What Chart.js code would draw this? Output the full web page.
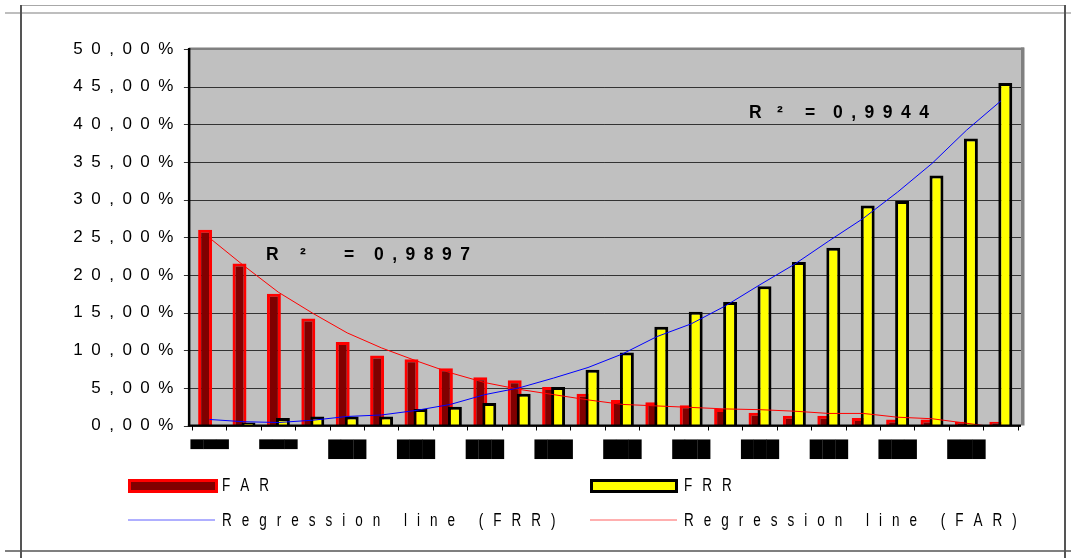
<!DOCTYPE html>
<html>
<head>
<meta charset="utf-8">
<script src="https://cdn.jsdelivr.net/npm/chart.js@4/dist/chart.umd.min.js"></script>
<style>
  html, body { margin: 0; padding: 0; background: #fff; }
  canvas { display: block; }
</style>
</head>
<body>
<canvas id="chart" width="1071" height="558"></canvas>
<script>
// category labels are blacked out in the original, kept as block glyphs
const categories = [
    '▀▀▀', '▀▀▀', '▀▀▀', '▀▀▀', '███', '███', '███', '███',
    '███', '███', '███', '███', '███', '███', '███', '███',
    '███', '███', '███', '███', '███', '███', '███', '███'
];

// values in percent
const farValues = [26.0, 21.5, 17.5, 14.2, 11.1, 9.3, 8.8, 7.6, 6.4, 6.0, 5.1, 4.2,
                   3.4, 3.1, 2.7, 2.2, 1.7, 1.3, 1.3, 1.0, 0.8, 0.8, 0.5, 0.5];
const frrValues = [0.0, 0.4, 1.0, 1.2, 1.2, 1.2, 2.2, 2.5, 3.0, 4.2, 5.1, 7.4,
                   9.7, 13.1, 15.1, 16.4, 18.5, 21.7, 23.6, 29.2, 29.8, 33.2, 38.1, 45.5];

// trend lines
const frrTrend = [0.8, 0.5, 0.4, 0.7, 1.2, 1.4, 2.0, 2.8, 4.1, 5.0, 6.3, 7.7,
                  9.5, 11.8, 13.5, 15.9, 18.7, 21.4, 24.5, 27.5, 31.0, 34.8, 39.2, 43.1];
const farTrend = [24.9, 21.2, 17.7, 14.9, 12.3, 10.3, 8.6, 7.0, 5.7, 4.8, 4.1, 3.4,
                  2.8, 2.6, 2.4, 2.2, 2.1, 1.9, 1.6, 1.6, 1.1, 0.9, 0.3, -0.3];

const yMax = 50;
const yStep = 5;

const r2Frr = '0,9944';
const r2Far = '0,9897';

const colors = {
    plot: '#c0c0c0',
    grid: '#333333',
    farFill: '#800000',
    farBorder: '#ff0000',
    frrFill: '#ffff00',
    frrBorder: '#000000',
    frrLine: '#0000ff',
    farLine: '#ff0000'
};

const textFont = '"Liberation Sans", Arial, sans-serif';

// "50,00 %" style with wide letter spacing like the original
function spaced(str) {
    return str.split('').join('\u2002');
}

// draw text one glyph at a time, squeezed by sx, with extra gap
function drawSpaced(ctx, text, x, y, gap, sx) {
    for (const ch of text) {
        ctx.save();
        ctx.translate(x, y);
        ctx.scale(sx, 1);
        ctx.fillText(ch, 0, 0);
        ctx.restore();
        x += ctx.measureText(ch).width * sx + gap;
    }
    return x;
}

// FRR bars sit over the FAR bars, so draw FAR first then FRR
const barOrder = {
    id: 'barOrder',
    beforeDatasetDraw(chart, args) {
        if (args.index === 1) return false;
    },
    afterDatasetDraw(chart, args) {
        if (args.index === 0) {
            chart.getDatasetMeta(1).controller.draw();
        }
    }
};

const frame = {
    id: 'frame',
    beforeDraw(chart) {
        const ctx = chart.ctx;
        const area = chart.chartArea;
        const y = chart.scales.y;
        const left = area.left - 3.5;
        const right = area.right + 3;

        ctx.save();
        // outer sheet lines
        ctx.strokeStyle = '#a8a8a8';
        ctx.lineWidth = 1;
        ctx.beginPath(); ctx.moveTo(21, 5.5); ctx.lineTo(1065, 5.5); ctx.stroke();
        ctx.lineWidth = 1.5;
        ctx.beginPath(); ctx.moveTo(5, 13); ctx.lineTo(1071, 13); ctx.stroke();
        ctx.strokeStyle = '#555';
        ctx.lineWidth = 2;
        ctx.beginPath(); ctx.moveTo(21, 5); ctx.lineTo(21, 558); ctx.stroke();
        ctx.beginPath(); ctx.moveTo(1065, 5); ctx.lineTo(1065, 558); ctx.stroke();
        ctx.lineWidth = 1.5;
        ctx.beginPath(); ctx.moveTo(5, 551); ctx.lineTo(1071, 551); ctx.stroke();

        // plot area
        ctx.fillStyle = colors.plot;
        ctx.fillRect(left, area.top, right - left, area.bottom - area.top);
        ctx.strokeStyle = colors.grid;
        ctx.lineWidth = 1;
        y.ticks.forEach(t => {
            const py = Math.round(y.getPixelForValue(t.value)) + 0.5;
            ctx.beginPath();
            ctx.moveTo(left, py);
            ctx.lineTo(right, py);
            ctx.stroke();
            ctx.beginPath();
            ctx.moveTo(left - 5, py);
            ctx.lineTo(left, py);
            ctx.stroke();
        });
        ctx.restore();
    },
    afterDatasetsDraw(chart) {
        const ctx = chart.ctx;
        const area = chart.chartArea;
        const left = area.left - 3.5;
        const right = area.right + 3;
        ctx.save();
        ctx.fillStyle = '#808080';
        ctx.fillRect(left, area.top - 1.5, right - left + 3, 2.5);
        ctx.fillRect(right, area.top - 1.5, 3.5, area.bottom - area.top + 1.5);
        ctx.fillStyle = '#000';
        ctx.fillRect(left - 1, area.top - 1, 2.5, area.bottom - area.top + 2);
        ctx.fillRect(left - 1, area.bottom - 1, right - left + 1, 2);
        ctx.restore();
    },
    afterDraw(chart) {
        const ctx = chart.ctx;
        const ds = chart.data.datasets;
        ctx.save();
        ctx.fillStyle = '#000';
        ctx.textBaseline = 'alphabetic';

        // R² labels
        ctx.font = 'bold 17.5px ' + textFont;
        drawSpaced(ctx, 'R', 266, 260, 0, 1);
        drawSpaced(ctx, '²', 300, 260, 0, 1);
        drawSpaced(ctx, '=', 344, 260, 0, 1);
        drawSpaced(ctx, r2Far, 374, 260, 8.5, 1);

        drawSpaced(ctx, 'R', 749, 118, 0, 1);
        drawSpaced(ctx, '²', 777, 118, 0, 1);
        drawSpaced(ctx, '=', 805, 118, 0, 1);
        drawSpaced(ctx, r2Frr, 833, 118, 8.5, 1);

        // legend
        ctx.fillStyle = colors.farBorder;
        ctx.fillRect(128, 479, 90, 14);
        ctx.fillStyle = colors.farFill;
        ctx.fillRect(131, 482, 84, 8);
        ctx.fillStyle = colors.frrBorder;
        ctx.fillRect(590, 479, 88, 14);
        ctx.fillStyle = colors.frrFill;
        ctx.fillRect(593, 482, 82, 8);

        ctx.lineWidth = 1;
        ctx.strokeStyle = '#6060ff';
        ctx.beginPath(); ctx.moveTo(128, 520); ctx.lineTo(215, 520); ctx.stroke();
        ctx.strokeStyle = '#ff6060';
        ctx.beginPath(); ctx.moveTo(590, 520); ctx.lineTo(677, 520); ctx.stroke();

        ctx.fillStyle = '#000';
        ctx.font = '18px ' + textFont;
        drawSpaced(ctx, ds[0].label, 222, 491, 10, 0.75);
        drawSpaced(ctx, ds[1].label, 684, 491, 10, 0.75);
        drawSpaced(ctx, ds[2].label, 222, 526, 10, 0.75);
        drawSpaced(ctx, ds[3].label, 684, 526, 10, 0.75);
        ctx.restore();
    }
};

const ctx = document.getElementById('chart').getContext('2d');

new Chart(ctx, {
    type: 'bar',
    data: {
        labels: categories,
        datasets: [
            {
                label: 'FAR',
                data: farValues,
                backgroundColor: colors.farFill,
                borderColor: colors.farBorder,
                borderWidth: 3,
                categoryPercentage: 0.523,
                barPercentage: 1.55,
                order: 0
            },
            {
                label: 'FRR',
                data: frrValues,
                backgroundColor: colors.frrFill,
                borderColor: colors.frrBorder,
                borderWidth: 3,
                categoryPercentage: 0.523,
                barPercentage: 1.55,
                order: 0
            },
            {
                type: 'line',
                label: 'Regression line (FRR)',
                data: frrTrend,
                borderColor: colors.frrLine,
                borderWidth: 1,
                pointRadius: 0,
                tension: 0,
                fill: false,
                order: -1
            },
            {
                type: 'line',
                label: 'Regression line (FAR)',
                data: farTrend,
                borderColor: colors.farLine,
                borderWidth: 1,
                pointRadius: 0,
                tension: 0,
                fill: false,
                order: -1
            }
        ]
    },
    options: {
        responsive: false,
        animation: false,
        devicePixelRatio: 1,
        layout: { padding: { left: 0, top: 49, right: 53, bottom: 0 } },
        scales: {
            x: {
                grid: { display: true, drawOnChartArea: false, drawTicks: true, tickLength: 5, color: '#000' },
                border: { display: false },
                ticks: {
                    autoSkip: false,
                    maxRotation: 0,
                    minRotation: 0,
                    padding: 10,
                    color: '#000',
                    font: { family: '"DejaVu Sans"', size: 16.5 },
                    callback: function (val, i) {
                        return i % 2 ? '' : this.getLabelForValue(val);
                    }
                },
                afterFit: s => { s.height = 132.5; }
            },
            y: {
                min: 0,
                max: yMax,
                grid: { display: false, drawTicks: false },
                border: { display: false },
                ticks: {
                    stepSize: yStep,
                    padding: 19,
                    color: '#000',
                    font: { family: 'Liberation Sans', size: 17 },
                    callback: v => spaced(v.toFixed(2).replace('.', ',') + '%')
                },
                afterFit: s => { s.width = 192.4; }
            }
        },
        plugins: {
            legend: { display: false },
            tooltip: { enabled: false }
        }
    },
    plugins: [frame, barOrder]
});
</script>
</body>
</html>
